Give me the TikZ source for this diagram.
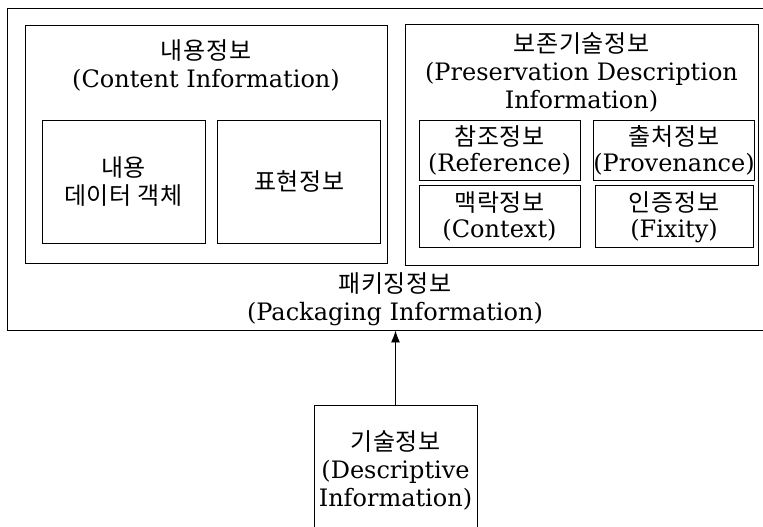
\documentclass[tikz,border=0pt]{standalone}
\usepackage{fontspec}
\setmainfont{DejaVu Serif}
\newfontfamily\kr[LetterSpace=3]{Noto Sans CJK KR}
\usetikzlibrary{arrows.meta,positioning}

\begin{document}
\begin{tikzpicture}[x=1pt,y=-1pt,
    box/.style={draw,line width=0.9pt,inner sep=0pt,align=center,
      font=\fontsize{24}{28}\selectfont},
    smallbox/.style={box,font=\fontsize{24}{26}\selectfont},
    title/.style={inner sep=0pt,align=center,font=\fontsize{24}{28}\selectfont}]
  \useasboundingbox (0,0) rectangle (763,527);
  % packaging information, the outer frame (runs off on the right)
  \node[box,minimum width=776pt,minimum height=322pt] (pkg) at (395,169) {};
  \node[title] (pkgtitle) at (395,299) {{\kr 패키징정보}\\(Packaging Information)};
  % content information
  \node[box,minimum width=362pt,minimum height=238pt] (content) at (206,144) {};
  \node[title] (contenttitle) at (206,65) {{\kr 내용정보}\\(Content Information)};
  \node[box,minimum width=163pt,minimum height=123pt] (dataobj) at (123.5,181.5) {{\kr 내용}\\{\kr 데이터 객체}};
  \node[box,minimum width=163pt,minimum height=123pt,right=12pt of dataobj] (repinfo) {{\kr 표현정보}};
  % preservation description information
  \node[box,minimum width=353pt,minimum height=241pt] (pdi) at (581.5,144.5) {};
  \node[title] (pdititle) at (581.5,72) {{\kr 보존기술정보}\\(Preservation Description\\Information)};
  \node[smallbox,minimum width=161pt,minimum height=60pt] (reference) at (499.5,150) {{\kr 참조정보}\\(Reference)};
  \node[smallbox,minimum width=158pt,minimum height=60pt] (provenance) at (674,150) {{\kr 출처정보}\\(Provenance)};
  \node[smallbox,minimum width=161pt,minimum height=62pt,below=5pt of reference] (context) {{\kr 맥락정보}\\(Context)};
  \node[smallbox,minimum width=158pt,minimum height=62pt,below=5pt of provenance] (fixity) {{\kr 인증정보}\\(Fixity)};
  % descriptive information (cut off at the bottom)
  \node[box,minimum width=163pt,minimum height=130pt] (descinfo) at (395.5,470)
    {{\kr 기술정보}\\(Descriptive\\Information)};
  \draw[line width=0.9pt,-{Latex[length=12pt,width=9pt]}] (descinfo.north) -- (descinfo.north |- pkg.south);
\end{tikzpicture}
\end{document}
